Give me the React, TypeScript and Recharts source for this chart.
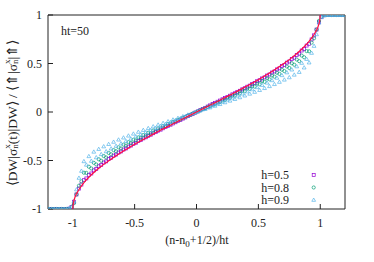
import { ComposedChart, Scatter, XAxis, YAxis } from "recharts"

// site positions (n-n0+1/2)/ht for ht=50
const xs = [
  -1.19, -1.17, -1.15, -1.13, -1.11, -1.09, -1.07, -1.05, -1.03, -1.01,
  -0.99, -0.97, -0.95, -0.93, -0.91, -0.89, -0.87, -0.85, -0.83, -0.81,
  -0.79, -0.77, -0.75, -0.73, -0.71, -0.69, -0.67, -0.65, -0.63, -0.61,
  -0.59, -0.57, -0.55, -0.53, -0.51, -0.49, -0.47, -0.45, -0.43, -0.41,
  -0.39, -0.37, -0.35, -0.33, -0.31, -0.29, -0.27, -0.25, -0.23, -0.21,
  -0.19, -0.17, -0.15, -0.13, -0.11, -0.09, -0.07, -0.05, -0.03, -0.01,
  0.01, 0.03, 0.05, 0.07, 0.09, 0.11, 0.13, 0.15, 0.17, 0.19,
  0.21, 0.23, 0.25, 0.27, 0.29, 0.31, 0.33, 0.35, 0.37, 0.39,
  0.41, 0.43, 0.45, 0.47, 0.49, 0.51, 0.53, 0.55, 0.57, 0.59,
  0.61, 0.63, 0.65, 0.67, 0.69, 0.71, 0.73, 0.75, 0.77, 0.79,
  0.81, 0.83, 0.85, 0.87, 0.89, 0.91, 0.93, 0.95, 0.97, 0.99,
  1.01, 1.03, 1.05, 1.07, 1.09, 1.11, 1.13, 1.15, 1.17, 1.19,
]

const h05 = [
  -1, -1, -1, -1, -1, -1, -1, -1, -0.997, -0.98,
  -0.925, -0.85, -0.79, -0.748, -0.703, -0.685, -0.649, -0.634, -0.602, -0.589,
  -0.56, -0.547, -0.521, -0.509, -0.485, -0.473, -0.45, -0.439, -0.418, -0.407,
  -0.387, -0.376, -0.357, -0.346, -0.328, -0.317, -0.3, -0.289, -0.272, -0.261,
  -0.245, -0.234, -0.219, -0.208, -0.193, -0.182, -0.168, -0.156, -0.143, -0.131,
  -0.118, -0.106, -0.093, -0.081, -0.068, -0.056, -0.043, -0.031, -0.019, -0.006,
  0.006, 0.019, 0.031, 0.043, 0.056, 0.068, 0.081, 0.093, 0.106, 0.118,
  0.131, 0.143, 0.156, 0.168, 0.182, 0.193, 0.208, 0.219, 0.234, 0.245,
  0.261, 0.272, 0.289, 0.3, 0.317, 0.328, 0.346, 0.357, 0.376, 0.387,
  0.407, 0.418, 0.439, 0.45, 0.473, 0.485, 0.509, 0.521, 0.547, 0.56,
  0.589, 0.602, 0.634, 0.649, 0.685, 0.703, 0.748, 0.79, 0.85, 0.925,
  0.98, 0.997, 1, 1, 1, 1, 1, 1, 1, 1,
]

const h08 = [
  -1, -1, -1, -1, -1, -1, -1, -1, -0.998, -0.985,
  -0.94, -0.85, -0.76, -0.715, -0.626, -0.628, -0.564, -0.582, -0.524, -0.541,
  -0.487, -0.503, -0.454, -0.469, -0.422, -0.436, -0.393, -0.405, -0.364, -0.376,
  -0.337, -0.347, -0.311, -0.32, -0.286, -0.293, -0.262, -0.267, -0.238, -0.242,
  -0.214, -0.217, -0.191, -0.193, -0.169, -0.169, -0.146, -0.145, -0.124, -0.121,
  -0.102, -0.098, -0.08, -0.075, -0.059, -0.052, -0.037, -0.029, -0.016, -0.006,
  0.006, 0.016, 0.029, 0.037, 0.052, 0.059, 0.075, 0.08, 0.098, 0.102,
  0.121, 0.124, 0.145, 0.146, 0.169, 0.169, 0.193, 0.191, 0.217, 0.214,
  0.242, 0.238, 0.267, 0.262, 0.293, 0.286, 0.32, 0.311, 0.347, 0.337,
  0.376, 0.364, 0.405, 0.393, 0.436, 0.422, 0.469, 0.454, 0.503, 0.487,
  0.541, 0.524, 0.582, 0.564, 0.628, 0.626, 0.715, 0.76, 0.85, 0.94,
  0.985, 0.998, 1, 1, 1, 1, 1, 1, 1, 1,
]

const h09 = [
  -1, -1, -1, -1, -1, -1, -1, -1, -0.995, -0.975,
  -0.92, -0.8, -0.68, -0.608, -0.509, -0.545, -0.457, -0.505, -0.411, -0.469,
  -0.383, -0.436, -0.356, -0.407, -0.332, -0.378, -0.309, -0.351, -0.286, -0.326,
  -0.265, -0.301, -0.245, -0.277, -0.225, -0.254, -0.206, -0.232, -0.187, -0.21,
  -0.168, -0.188, -0.15, -0.167, -0.132, -0.146, -0.115, -0.126, -0.098, -0.105,
  -0.08, -0.085, -0.063, -0.065, -0.046, -0.045, -0.029, -0.025, -0.013, -0.005,
  0.005, 0.013, 0.025, 0.029, 0.045, 0.046, 0.065, 0.063, 0.085, 0.08,
  0.105, 0.098, 0.126, 0.115, 0.146, 0.132, 0.167, 0.15, 0.188, 0.168,
  0.21, 0.187, 0.232, 0.206, 0.254, 0.225, 0.277, 0.245, 0.301, 0.265,
  0.326, 0.286, 0.351, 0.309, 0.378, 0.332, 0.407, 0.356, 0.436, 0.383,
  0.469, 0.411, 0.505, 0.457, 0.545, 0.509, 0.608, 0.68, 0.8, 0.92,
  0.975, 0.995, 1, 1, 1, 1, 1, 1, 1, 1,
]

// continuum curve (red line)
const curveX = [
  -1, -0.995, -0.99, -0.98, -0.97, -0.95, -0.925, -0.9, -0.85, -0.8, -0.75, -0.7, -0.65,
  -0.6, -0.55, -0.5, -0.45, -0.4, -0.35, -0.3, -0.25, -0.2, -0.15, -0.1, -0.05, 0,
  0.05, 0.1, 0.15, 0.2, 0.25, 0.3, 0.35, 0.4, 0.45, 0.5, 0.55, 0.6,
  0.65, 0.7, 0.75, 0.8, 0.85, 0.9, 0.925, 0.95, 0.97, 0.98, 0.99, 0.995, 1,
]
const curveY = [
  -1, -0.936, -0.91, -0.872, -0.844, -0.799, -0.753, -0.713, -0.647, -0.59, -0.54, -0.494, -0.451,
  -0.41, -0.371, -0.333, -0.297, -0.262, -0.228, -0.194, -0.161, -0.128, -0.096, -0.064, -0.032, 0,
  0.032, 0.064, 0.096, 0.128, 0.161, 0.194, 0.228, 0.262, 0.297, 0.333, 0.371, 0.41,
  0.451, 0.494, 0.54, 0.59, 0.647, 0.713, 0.753, 0.799, 0.844, 0.872, 0.91, 0.936, 1,
]

const ticks = [-1, -0.5, 0, 0.5, 1]

const PURPLE = "#9400d3"
const GREEN = "#009e73"
const CYAN = "#56b4e9"
const RED = "#ff1040"
const FONT = "'Liberation Serif', 'Times New Roman', serif"

const pts = (ys: number[]) => xs.map((x, i) => ({ x, y: ys[i] }))
const curve = curveX.map((x, i) => ({ x, y: curveY[i] }))

const Square = (p: any) => (
  <rect x={p.cx - 1.5} y={p.cy - 1.5} width={3} height={3} fill="none" stroke={PURPLE} strokeWidth={0.7} />
)
const Circle = (p: any) => <circle cx={p.cx} cy={p.cy} r={1.6} fill="none" stroke={GREEN} strokeWidth={0.7} />
const Tri = (p: any) => (
  <polygon
    points={`${p.cx},${p.cy - 2} ${p.cx - 1.9},${p.cy + 1.3} ${p.cx + 1.9},${p.cy + 1.3}`}
    fill="none"
    stroke={CYAN}
    strokeWidth={0.7}
  />
)
const NoDot = () => <g />

const legend = [
  { label: "h=0.5", Shape: Square },
  { label: "h=0.8", Shape: Circle },
  { label: "h=0.9", Shape: Tri },
]

const XTick = ({ x, y, payload }: any) => (
  <text x={x} y={y} dy="0.71em" textAnchor="middle" fontFamily={FONT} fontSize={12} fill="#222">
    {payload.value}
  </text>
)
const YTick = ({ x, y, payload }: any) => (
  <text x={x} y={y} dy="0.35em" textAnchor="end" fontFamily={FONT} fontSize={12} fill="#222">
    {payload.value}
  </text>
)

export default function App() {
  return (
    <div style={{ position: "absolute", left: 0, top: 0, width: 374, height: 262, background: "#fff" }}>
      <ComposedChart width={374} height={262} margin={{ top: 14, right: 28, bottom: 52, left: 47 }}>
        <XAxis
          dataKey="x"
          type="number"
          domain={[-1.2, 1.2]}
          ticks={ticks}
          allowDataOverflow
          height={1}
          tickSize={-5}
          tickMargin={14}
          stroke="#222"
          tick={<XTick />}
        />
        <XAxis xAxisId="top" orientation="top" type="number" domain={[-1.2, 1.2]} ticks={ticks} height={1} tickSize={-5} tick={false} stroke="#222" />
        <YAxis
          type="number"
          domain={[-1, 1]}
          ticks={ticks}
          allowDataOverflow
          width={1}
          tickSize={-5}
          tickMargin={11}
          stroke="#222"
          tick={<YTick />}
        />
        <YAxis yAxisId="r" orientation="right" type="number" domain={[-1, 1]} ticks={ticks} width={1} tickSize={-5} tick={false} stroke="#222" />
        <Scatter data={pts(h05)} dataKey="y" shape={Square} isAnimationActive={false} />
        <Scatter data={pts(h08)} dataKey="y" shape={Circle} isAnimationActive={false} />
        <Scatter data={pts(h09)} dataKey="y" shape={Tri} isAnimationActive={false} />
        <Scatter
          data={curve}
          dataKey="y"
          shape={NoDot}
          line={{ stroke: RED, strokeWidth: 1.2 }}
          lineType="joint"
          isAnimationActive={false}
        />
      </ComposedChart>
      <svg width={374} height={262} style={{ position: "absolute", left: 0, top: 0, pointerEvents: "none" }}>
        <g fontFamily={FONT} fill="#222" fontSize={12}>
          <text x={61} y={35}>ht=50</text>
          <text x={197} y={244} textAnchor="middle">
            (n-n<tspan fontSize={9} dy={3}>0</tspan>
            <tspan dy={-3}>+1/2)/ht</tspan>
          </text>
          <text x={12} y={113} textAnchor="middle" dominantBaseline="central" fontSize={13.5} transform="rotate(-90 12 113)">
            ⟨DW|σ<tspan fontSize={9} dy={-5}>x</tspan>
            <tspan fontSize={9} dx={-4.5} dy={8}>n</tspan>
            <tspan dy={-3}>(t)|DW⟩ / ⟨⇑|σ</tspan>
            <tspan fontSize={9} dy={-5}>x</tspan>
            <tspan fontSize={9} dx={-4.5} dy={8}>n</tspan>
            <tspan dy={-3}>|⇑⟩</tspan>
          </text>
          {legend.map((l, i) => (
            <g key={l.label}>
              <text x={289} y={179.3 + i * 12.5} textAnchor="end">{l.label}</text>
              <l.Shape cx={313.7} cy={175 + i * 12.5} />
            </g>
          ))}
        </g>
      </svg>
    </div>
  )
}
